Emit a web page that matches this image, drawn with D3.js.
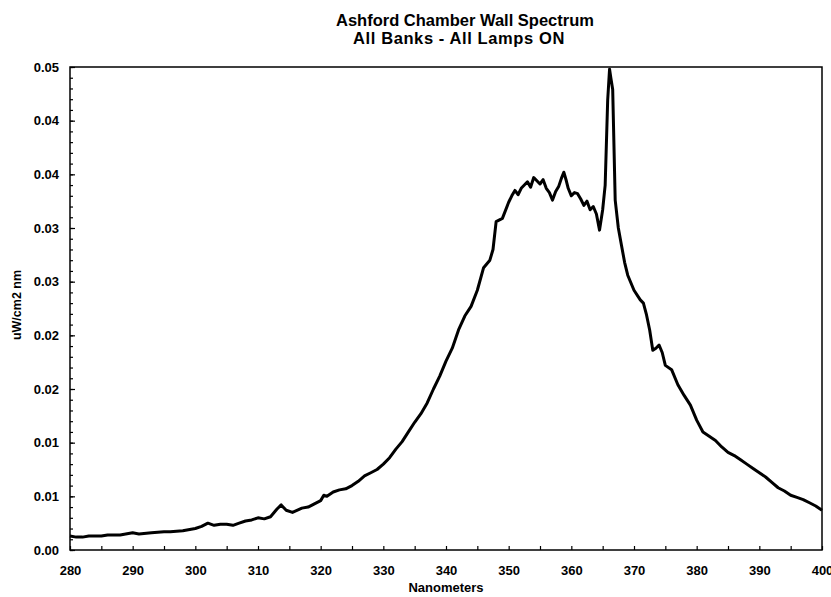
<!DOCTYPE html>
<html><head><meta charset="utf-8">
<script src="https://cdn.jsdelivr.net/npm/d3@7"></script>
<style>body{margin:0;background:#fff}svg{display:block}text{font-family:"Liberation Sans",Arial,sans-serif;font-weight:bold;fill:#000}</style>
</head><body><svg id="c" width="831" height="597"></svg>
<script>
const titleLines = ["Ashford Chamber Wall Spectrum", "All Banks - All Lamps ON"];
const xTitle = "Nanometers";
const yTitle = "uW/cm2 nm";
const xTickValues = [280,290,300,310,320,330,340,350,360,370,380,390,400];
const yTickValues = [0,0.005,0.01,0.015,0.02,0.025,0.03,0.035,0.04,0.045];
const yTickLabels = ["0.00","0.01","0.01","0.02","0.02","0.03","0.03","0.04","0.04","0.05"];
const wavelength = [280,281,282,283,285,286,288,290,291,293,295,296,298,300,301,302,303,304,305,306,307,308,309,310,311,312,313,313.7,314.5,315.5,317,318,319,320,320.5,321,322,323,324,325,326,327,328,329,330,331,332,333,334,335,336,337,338,339,340,341,342,343,344,345,346,347,347.5,348,349,350,350.5,351,351.5,352,352.5,353,353.5,354,354.5,355,355.5,356,356.5,357,357.5,358,358.4,358.8,359.2,359.5,360,360.5,361,361.5,362,362.5,363,363.5,364,364.5,365,365.4,365.8,366.1,366.3,366.6,367,367.5,368,368.5,369,370,371,371.5,372,372.5,373,373.5,374,374.5,375,376,377,378,379,380,381,382,383,384,385,386,387,388,389,390,391,392,393,394,395,396,397,398,399,400];
const intensity = [0.0013,0.0012,0.0012,0.0013,0.0013,0.0014,0.0014,0.0016,0.0015,0.0016,0.0017,0.0017,0.0018,0.0020,0.0022,0.0025,0.0023,0.0024,0.0024,0.0023,0.0025,0.0027,0.0028,0.0030,0.0029,0.0031,0.0038,0.0042,0.0037,0.0035,0.0039,0.0040,0.0043,0.0046,0.0051,0.0050,0.0054,0.0056,0.0057,0.0060,0.0064,0.0069,0.0072,0.0075,0.0080,0.0086,0.0094,0.0101,0.0110,0.0119,0.0127,0.0137,0.0150,0.0162,0.0176,0.0188,0.0205,0.0218,0.0227,0.0242,0.0263,0.0270,0.0280,0.0306,0.0309,0.0324,0.0330,0.0335,0.0331,0.0337,0.0340,0.0343,0.0338,0.0347,0.0344,0.0341,0.0345,0.0337,0.0333,0.0326,0.0334,0.0339,0.0346,0.0352,0.0344,0.0337,0.0330,0.0333,0.0332,0.0327,0.0321,0.0325,0.0317,0.0320,0.0313,0.0298,0.0317,0.0340,0.0419,0.0448,0.0440,0.0429,0.0326,0.0300,0.0284,0.0268,0.0256,0.0242,0.0233,0.0230,0.0219,0.0205,0.0186,0.0188,0.0191,0.0184,0.0172,0.0168,0.0154,0.0144,0.0135,0.0121,0.0110,0.0106,0.0102,0.0096,0.0091,0.0088,0.0084,0.0080,0.0076,0.0072,0.0068,0.0063,0.0058,0.0055,0.0051,0.0049,0.0047,0.0044,0.0041,0.0037];

const svg = d3.select("#c");
const L = 70, R = 822, T = 67, B = 550;
const x = d3.scaleLinear().domain([280,400]).range([L,R]);
const y = d3.scaleLinear().domain([0,0.045]).range([B,T]);

// frame
svg.append("rect").attr("x",L).attr("y",T).attr("width",R-L).attr("height",B-T)
  .attr("fill","none").attr("stroke","#000").attr("stroke-width",1.5);

// y axis
const yMinor = d3.range(0,0.0451,0.001);
svg.append("g").attr("transform",`translate(${L},0)`)
  .call(d3.axisRight(y).tickValues(yMinor).tickSize(3).tickFormat(""))
  .call(g=>g.select(".domain").remove())
  .call(g=>g.selectAll("line").attr("stroke-width",1.2));
svg.append("g").attr("transform",`translate(${L},0)`)
  .call(d3.axisLeft(y).tickValues(yTickValues).tickSize(-5).tickPadding(11)
     .tickFormat((d,i)=>yTickLabels[i]))
  .call(g=>g.select(".domain").remove())
  .call(g=>g.selectAll("line").attr("stroke-width",1.2))
  .call(g=>g.selectAll("text").attr("font-size",13).attr("font-family","Liberation Sans, Arial").attr("font-weight","bold"));

// x axis
svg.append("g").attr("transform",`translate(0,${B})`)
  .call(d3.axisTop(x).tickValues(d3.range(280,401,5)).tickSize(4).tickFormat(""))
  .call(g=>g.select(".domain").remove())
  .call(g=>g.selectAll("line").attr("stroke-width",1.2));
svg.append("g").attr("transform",`translate(0,${B})`)
  .call(d3.axisBottom(x).tickValues(xTickValues).tickSize(0).tickPadding(16).tickFormat(d3.format("d")))
  .call(g=>g.select(".domain").remove())
  .call(g=>g.selectAll("text").attr("font-size",13).attr("font-family","Liberation Sans, Arial").attr("font-weight","bold"));

// line
const data = wavelength.map((w,i)=>({w, v:intensity[i]}));
svg.append("path").datum(data)
  .attr("fill","none").attr("stroke","#000").attr("stroke-width",3).attr("stroke-linejoin","round")
  .attr("d", d3.line().x(d=>x(d.w)).y(d=>y(d.v)));

// titles
svg.append("text").attr("x",465).attr("y",26).attr("text-anchor","middle").attr("font-size",16.5).text(titleLines[0]);
svg.append("text").attr("x",459).attr("y",44).attr("text-anchor","middle").attr("font-size",16.5).attr("letter-spacing",0.6).text(titleLines[1]);
svg.append("text").attr("x",446).attr("y",592).attr("text-anchor","middle").attr("font-size",13).text(xTitle);
svg.append("text").attr("transform","translate(21,305) rotate(-90)").attr("text-anchor","middle").attr("font-size",12.5).text(yTitle);
</script></body></html>
